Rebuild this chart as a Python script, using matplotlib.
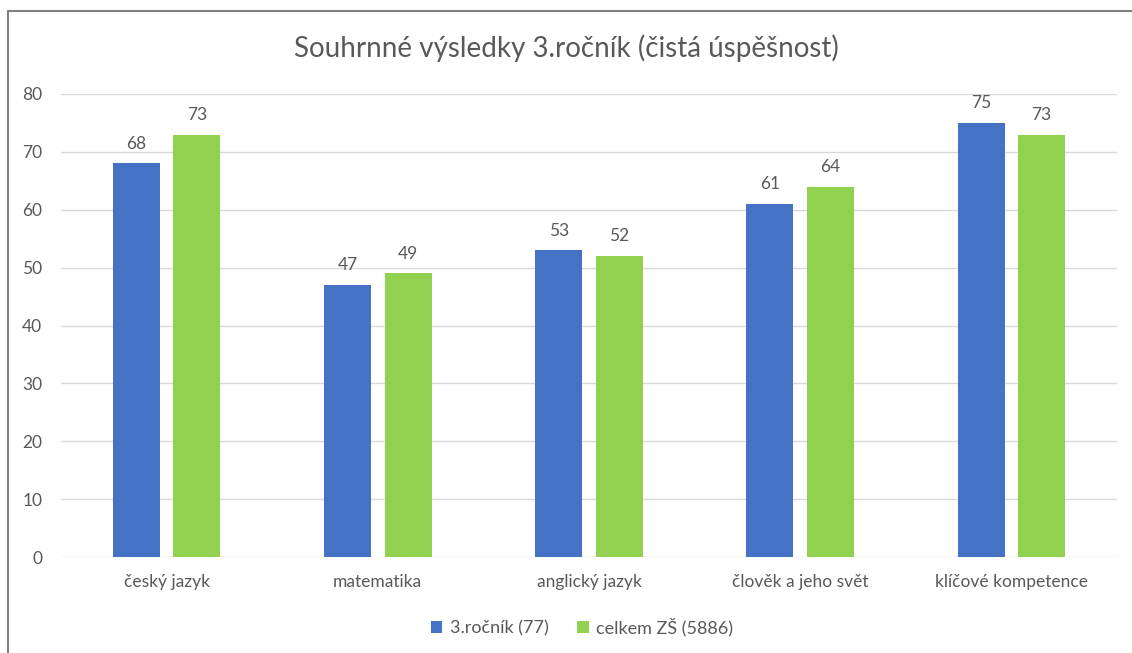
import matplotlib.pyplot as plt
import numpy as np
from matplotlib.patches import Rectangle

plt.rcParams['font.family'] = ['Lato', 'DejaVu Sans']

categories = ["český jazyk", "matematika", "anglický jazyk",
              "člověk a jeho svět", "klíčové kompetence"]
rocnik = [68, 47, 53, 61, 75]
celkem = [73, 49, 52, 64, 73]
series_names = ["3.ročník (77)", "celkem ZŠ (5886)"]

blue = "#4472C4"
green = "#92D050"
text_col = "#595959"

fig = plt.figure(figsize=(11.32, 6.53), dpi=100)
ax = fig.add_axes([61 / 1132, 1 - 557 / 653, 1056 / 1132, 463 / 653])

# frame around the chart (right/bottom edges fall outside the image)
fig.patches.append(Rectangle((8 / 1132, -0.1), 1.2, 1 - 11 / 653 + 0.1,
                             transform=fig.transFigure, fill=False,
                             edgecolor="#808080", lw=1.5))

x = np.arange(len(categories))
w = 0.2225
off = 0.1435
b1 = ax.bar(x - off, rocnik, w, color=blue, label=series_names[0], zorder=3)
b2 = ax.bar(x + off, celkem, w, color=green, label=series_names[1], zorder=3)

for bars in (b1, b2):
    for r in bars:
        ax.text(r.get_x() + r.get_width() / 2, r.get_height() + 2.0,
                f"{r.get_height():.0f}", ha="center", va="bottom",
                fontsize=12.5, color=text_col)

ax.set_xlim(-0.5, len(categories) - 0.5)
ax.set_ylim(0, 80)
ax.set_yticks(range(0, 81, 10))
ax.set_xticks(x)
ax.set_xticklabels(categories)
ax.tick_params(axis="both", length=0, labelsize=12.5, colors=text_col)
ax.tick_params(axis="y", pad=13.5)
ax.tick_params(axis="x", pad=12)
ax.grid(axis="y", color="#D9D9D9", lw=1, zorder=0)
for s in ax.spines.values():
    s.set_visible(False)

fig.text(0.5, 1 - 48 / 653, "Souhrnné výsledky 3.ročník (čistá úspěšnost)",
         ha="center", va="center", fontsize=20, color=text_col)

fig.legend(handles=[b1, b2], loc="center", bbox_to_anchor=(582 / 1132, 1 - 627 / 653),
           ncol=2, frameon=False, fontsize=13, handlelength=0.65, handleheight=0.65,
           handletextpad=0.4, columnspacing=1.6, labelcolor=text_col)

fig.savefig("out.png", dpi=100)
